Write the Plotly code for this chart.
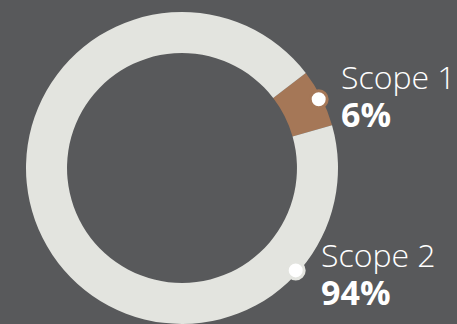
import plotly.graph_objects as go
import math

labels = ["Scope 1", "Scope 2"]
values = [6, 94]
pct_text = ["6%", "94%"]
colors = ["#a57757", "#e3e4df"]
dot_border = ["#a57757", "#e3e4df"]

W, H = 457, 324
cx, cy, R = 182, 168, 156
rotation = 52.5
# angle (clockwise from 12 o'clock) where each label dot sits
dot_angle = [rotation + values[0] / 100 * 360 / 2, 132]
bg = "#58595b"

fig = go.Figure()
fig.add_trace(go.Pie(
    labels=labels, values=values, sort=False, direction="clockwise",
    rotation=rotation, hole=0.737, textinfo="none", hoverinfo="skip",
    marker=dict(colors=colors, line=dict(width=0)),
    domain=dict(x=[(cx - R) / W, (cx + R) / W], y=[(H - cy - R) / H, (H - cy + R) / H]),
    showlegend=False,
))

dx, dy = [], []
for a in dot_angle:
    t = math.radians(a)
    dx.append(cx + (R - 3) * math.sin(t))
    dy.append(cy - (R - 3) * math.cos(t))

r_dot = 8.5
for i in range(2):
    fig.add_shape(type="circle", xref="x", yref="y", layer="above",
                  x0=dx[i] - r_dot, x1=dx[i] + r_dot, y0=dy[i] - r_dot, y1=dy[i] + r_dot,
                  fillcolor="white", line=dict(color=dot_border[i], width=3))

x_shift = [20, 23]
y_shift = [-3, 4]
for i in range(2):
    fig.add_annotation(
        x=dx[i] + x_shift[i], y=dy[i] + y_shift[i], xref="x", yref="y",
        text=("<span style='font-size:32px'>" + labels[i] + "</span><br>"
              "<span style='font-size:34px'><b>" + pct_text[i] + "</b></span>"),
        showarrow=False, xanchor="left", yanchor="middle", align="left",
        font=dict(family="Open Sans", size=29, color="white", weight=300))

fig.update_layout(
    width=W, height=H, margin=dict(l=0, r=0, t=0, b=0),
    paper_bgcolor=bg, plot_bgcolor="rgba(0,0,0,0)",
    xaxis=dict(range=[0, W], visible=False, fixedrange=True),
    yaxis=dict(range=[H, 0], visible=False, fixedrange=True),
)
fig.write_html("out.html")
